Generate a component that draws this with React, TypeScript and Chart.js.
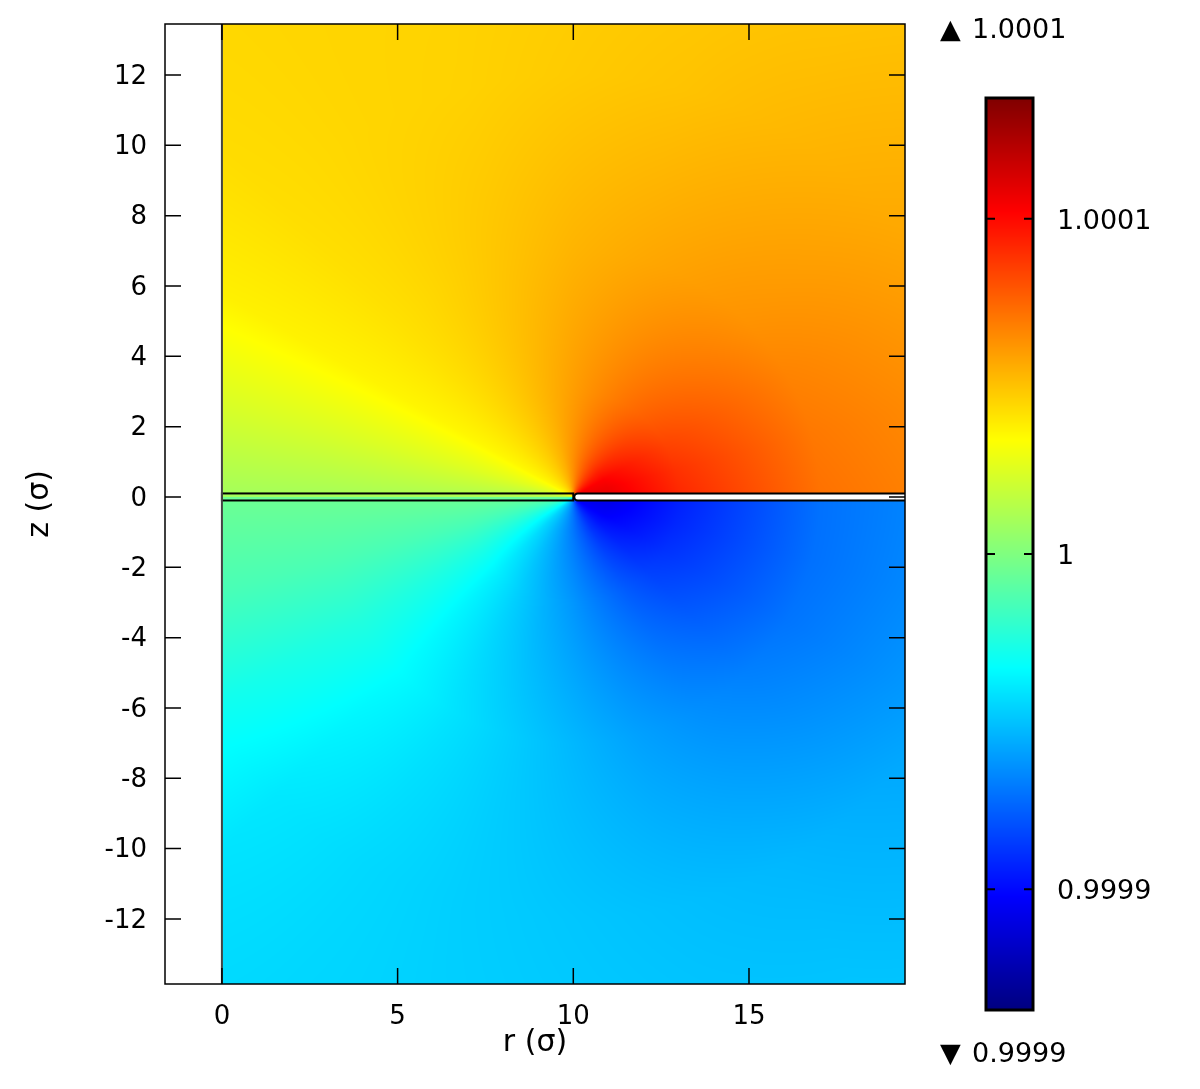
import React, { useEffect, useRef } from 'react';
import { Chart, registerables } from 'chart.js';

Chart.register(...registerables);

// ---- axis ranges & ticks ----
const X_MIN = -1.62;
const X_MAX = 19.44;
const Y_MIN = -13.85;
const Y_MAX = 13.45;
const X_TICKS = [0, 5, 10, 15];
const Y_TICKS = [-12, -10, -8, -6, -4, -2, 0, 2, 4, 6, 8, 10, 12];
const X_TITLE = 'r (σ)';
const Y_TITLE = 'z (σ)';

// ---- colour bar ----
const CB_MIN = 0.999864;
const CB_MAX = 1.000136;
const CB_TICKS = [0.9999, 1, 1.0001];
const CB_TICK_LABELS = ['0.9999', '1', '1.0001'];
const CB_MAX_LABEL = '1.0001';
const CB_MIN_LABEL = '0.9999';

// ---- geometry of the electrode / membrane (sigma units) ----
const EDGE_R = 10;          // edge of the plate, where the field fans out
const STRIP_HALF = 0.1;     // half thickness of strip and plate
const DATA_R_MIN = 0;       // field only exists for r >= 0

// ---- field samples: potential - 1, in units of 1e-6 ----
// sampled on a polar grid centred on the plate edge (r=10, z=0)
const RADII = [0, 1, 3, 7, 12, 18];
const ANGLE_STEP = 15; // degrees
// upper half: angles 0,15,...,180 (0 = along the plate, above it)
const PHI_UPPER = [
  [108, 107, 105, 96, 86, 75, 64, 55, 48, 42, 36, 26, 14],
  [108, 106, 102, 94, 84, 74, 64, 55, 48, 42, 36, 26, 13],
  [92, 89, 84, 78, 72, 66, 60, 54, 48, 42, 36, 25, 12],
  [72, 70, 67, 63, 60, 57, 54, 50, 46, 42, 37, 24, 10],
  [64, 62, 59, 56, 53, 50, 48, 46, 45, 43, 38, 24, 9],
  [62, 58, 54, 51, 48, 47, 46, 45, 45, 44, 40, 26, 9],
];
// lower half: angles 180,195,...,360 (360 = along the plate, below it)
const PHI_LOWER = [
  [-5, -18, -32, -46, -55, -63, -72, -82, -92, -100, -105, -107, -109],
  [-5, -18, -32, -45, -54, -62, -70, -79, -89, -97, -103, -106, -108],
  [-5, -15, -27, -38, -47, -55, -62, -70, -78, -85, -89, -92, -94],
  [-5, -14, -25, -34, -41, -47, -53, -59, -64, -68, -71, -72, -72],
  [-5, -15, -30, -40, -44, -47, -49, -51, -53, -56, -59, -61, -62],
  [-5, -18, -33, -43, -45, -46, -47, -48, -48, -50, -53, -56, -58],
];
const PHI_UNIT = 1e-6;
const PHI_BASE = 1;

const TICK_FONT = { family: 'DejaVu Sans', size: 26 };
const TITLE_FONT = { family: 'DejaVu Sans', size: 30 };
const CB_FONT = { family: 'DejaVu Sans', size: 27 };

function clamp01(v: number) {
  return v < 0 ? 0 : v > 1 ? 1 : v;
}

function jet(t: number): [number, number, number] {
  t = clamp01(t);
  const r = clamp01(1.5 - Math.abs(4 * t - 3));
  const g = clamp01(1.5 - Math.abs(4 * t - 2));
  const b = clamp01(1.5 - Math.abs(4 * t - 1));
  return [Math.round(r * 255), Math.round(g * 255), Math.round(b * 255)];
}

function fieldAt(r: number, z: number): number {
  const dx = r - EDGE_R;
  const R = Math.hypot(dx, z);
  const ang = (Math.atan2(z, dx) * 180) / Math.PI;
  const upper = ang >= 0;
  const table = upper ? PHI_UPPER : PHI_LOWER;
  const a = upper ? ang : ang + 180; // 0..180 within half
  const nA = table[0].length;
  let ai = a / ANGLE_STEP;
  if (ai < 0) ai = 0;
  if (ai > nA - 1) ai = nA - 1;
  let i0 = Math.floor(ai);
  if (i0 > nA - 2) i0 = nA - 2;
  const fa = ai - i0;
  let j0 = RADII.length - 2;
  let fr = 1;
  for (let j = 0; j < RADII.length - 1; j++) {
    if (R <= RADII[j + 1]) {
      j0 = j;
      fr = (R - RADII[j]) / (RADII[j + 1] - RADII[j]);
      break;
    }
  }
  const v00 = table[j0][i0];
  const v01 = table[j0][i0 + 1];
  const v10 = table[j0 + 1][i0];
  const v11 = table[j0 + 1][i0 + 1];
  const v0 = v00 + (v01 - v00) * fa;
  const v1 = v10 + (v11 - v10) * fa;
  return PHI_BASE + (v0 + (v1 - v0) * fr) * PHI_UNIT;
}

const heatmapPlugin = {
  id: 'heatmap',
  beforeDatasetsDraw(chart: any) {
    const { ctx, chartArea } = chart;
    const xs = chart.scales.x;
    const ys = chart.scales.y;
    const left = Math.round(chartArea.left);
    const top = Math.round(chartArea.top);
    const w = Math.round(chartArea.right) - left;
    const h = Math.round(chartArea.bottom) - top;
    const img = ctx.createImageData(w, h);
    const d = img.data;
    const span = CB_MAX - CB_MIN;
    for (let j = 0; j < h; j++) {
      const z = ys.getValueForPixel(top + j + 0.5);
      for (let i = 0; i < w; i++) {
        const r = xs.getValueForPixel(left + i + 0.5);
        const k = (j * w + i) * 4;
        if (r < DATA_R_MIN) {
          d[k] = 255; d[k + 1] = 255; d[k + 2] = 255; d[k + 3] = 255;
          continue;
        }
        const v = fieldAt(r, z);
        const [cr, cg, cb] = jet((v - CB_MIN) / span);
        d[k] = cr; d[k + 1] = cg; d[k + 2] = cb; d[k + 3] = 255;
      }
    }
    ctx.putImageData(img, left, top);
  },
  afterDraw(chart: any) {
    const { ctx, chartArea } = chart;
    const xs = chart.scales.x;
    const ys = chart.scales.y;
    const { left, right, top, bottom } = chartArea;
    ctx.save();
    ctx.beginPath();
    ctx.rect(left, top, right - left, bottom - top);
    ctx.clip();

    const yTop = ys.getPixelForValue(STRIP_HALF);
    const yBot = ys.getPixelForValue(-STRIP_HALF);
    const xEdge = xs.getPixelForValue(EDGE_R);
    const x0 = xs.getPixelForValue(DATA_R_MIN);

    // membrane strip r in [0, 10]
    ctx.lineWidth = 2;
    ctx.strokeStyle = '#000';
    ctx.strokeRect(x0, yTop, xEdge - x0, yBot - yTop);

    // plate r >= 10 (white, rounded inner end)
    const rad = (yBot - yTop) / 2;
    ctx.beginPath();
    ctx.moveTo(right + 10, yTop);
    ctx.lineTo(xEdge + 1 + rad, yTop);
    ctx.arcTo(xEdge + 1, yTop, xEdge + 1, yTop + rad, rad);
    ctx.arcTo(xEdge + 1, yBot, xEdge + 1 + rad, yBot, rad);
    ctx.lineTo(right + 10, yBot);
    ctx.closePath();
    ctx.fillStyle = '#fff';
    ctx.fill();
    ctx.stroke();

    // r = 0 boundary line
    ctx.beginPath();
    ctx.strokeStyle = '#444';
    ctx.lineWidth = 2;
    ctx.moveTo(x0, top);
    ctx.lineTo(x0, bottom);
    ctx.stroke();
    ctx.restore();

    // frame and inward ticks on all four sides
    ctx.save();
    ctx.strokeStyle = '#000';
    ctx.lineWidth = 1.5;
    ctx.strokeRect(left, top, right - left, bottom - top);
    const TL = 16;
    ctx.beginPath();
    for (const t of xs.ticks) {
      const px = xs.getPixelForValue(t.value);
      ctx.moveTo(px, bottom);
      ctx.lineTo(px, bottom - TL);
      ctx.moveTo(px, top);
      ctx.lineTo(px, top + TL);
    }
    for (const t of ys.ticks) {
      const py = ys.getPixelForValue(t.value);
      ctx.moveTo(left, py);
      ctx.lineTo(left + TL, py);
      ctx.moveTo(right, py);
      ctx.lineTo(right - TL, py);
    }
    ctx.stroke();
    ctx.restore();
  },
};

const colorbarPlugin = {
  id: 'colorbar',
  beforeDatasetsDraw(chart: any) {
    const { ctx, chartArea } = chart;
    const ys = chart.scales.y;
    const span = CB_MAX - CB_MIN;
    const top = Math.round(chartArea.top);
    const bottom = Math.round(chartArea.bottom);
    for (let y = top; y < bottom; y++) {
      const v = ys.getValueForPixel(y + 0.5);
      const [r, g, b] = jet((v - CB_MIN) / span);
      ctx.fillStyle = `rgb(${r},${g},${b})`;
      ctx.fillRect(chartArea.left, y, chartArea.right - chartArea.left, 1);
    }
  },
  afterDraw(chart: any) {
    const { ctx, chartArea } = chart;
    const ys = chart.scales.y;
    const { left, right, top, bottom } = chartArea;
    ctx.save();
    ctx.strokeStyle = '#000';
    ctx.lineWidth = 2;
    ctx.beginPath();
    for (const t of ys.ticks) {
      const py = ys.getPixelForValue(t.value);
      ctx.moveTo(left, py);
      ctx.lineTo(left + 9, py);
      ctx.moveTo(right, py);
      ctx.lineTo(right - 9, py);
    }
    ctx.stroke();
    ctx.lineWidth = 3;
    ctx.strokeRect(left, top, right - left, bottom - top);

    ctx.fillStyle = '#000';
    ctx.font = `${CB_FONT.size}px ${CB_FONT.family}`;
    ctx.textBaseline = 'middle';
    ctx.textAlign = 'left';
    ctx.fillText('▲', 10, 31);
    ctx.fillText(CB_MAX_LABEL, 42, 31);
    ctx.fillText('▼', 10, 1055);
    ctx.fillText(CB_MIN_LABEL, 42, 1055);
    ctx.restore();
  },
};

function noScalePadding(s: any) {
  s.paddingTop = 0;
  s.paddingBottom = 0;
  s.paddingLeft = 0;
  s.paddingRight = 0;
}

export default function App() {
  const mainRef = useRef<HTMLCanvasElement | null>(null);
  const cbRef = useRef<HTMLCanvasElement | null>(null);

  useEffect(() => {
    document.body.style.margin = '0';
    document.body.style.overflow = 'hidden';
    const main = new Chart(mainRef.current as HTMLCanvasElement, {
      type: 'scatter',
      data: { datasets: [] },
      options: {
        animation: false,
        responsive: false,
        maintainAspectRatio: false,
        layout: { padding: { top: 24, right: 295, left: 0, bottom: 0 } },
        plugins: { legend: { display: false }, tooltip: { enabled: false } },
        scales: {
          x: {
            type: 'linear',
            min: X_MIN,
            max: X_MAX,
            grid: { display: false, drawTicks: false },
            border: { display: false },
            afterBuildTicks: (s: any) => {
              s.ticks = X_TICKS.map((v) => ({ value: v }));
            },
            afterFit: (s: any) => {
              s.height = 105;
              noScalePadding(s);
            },
            ticks: {
              font: TICK_FONT,
              color: '#000',
              padding: 18,
              maxRotation: 0,
              autoSkip: false,
              callback: (v: any) => String(v),
            },
            title: {
              display: true,
              text: X_TITLE,
              font: TITLE_FONT,
              color: '#000',
              padding: { top: 0, bottom: 28 },
            },
          },
          y: {
            type: 'linear',
            min: Y_MIN,
            max: Y_MAX,
            grid: { display: false, drawTicks: false },
            border: { display: false },
            afterBuildTicks: (s: any) => {
              s.ticks = Y_TICKS.map((v) => ({ value: v }));
            },
            afterFit: (s: any) => {
              s.width = 165;
              noScalePadding(s);
            },
            ticks: {
              font: TICK_FONT,
              color: '#000',
              padding: 18,
              labelOffset: 2,
              autoSkip: false,
              callback: (v: any) => String(v),
            },
            title: {
              display: true,
              text: Y_TITLE,
              font: TITLE_FONT,
              color: '#000',
              padding: { top: 22, bottom: 0 },
            },
          },
        },
      },
      plugins: [heatmapPlugin],
    } as any);

    const cb = new Chart(cbRef.current as HTMLCanvasElement, {
      type: 'scatter',
      data: { datasets: [] },
      options: {
        animation: false,
        responsive: false,
        maintainAspectRatio: false,
        layout: { padding: { top: 98, left: 56, bottom: 79, right: 0 } },
        plugins: { legend: { display: false }, tooltip: { enabled: false } },
        scales: {
          x: { type: 'linear', display: false, min: 0, max: 1 },
          y: {
            type: 'linear',
            position: 'right',
            min: CB_MIN,
            max: CB_MAX,
            grid: { display: false, drawTicks: false },
            border: { display: false },
            afterBuildTicks: (s: any) => {
              s.ticks = CB_TICKS.map((v) => ({ value: v }));
            },
            afterFit: (s: any) => {
              s.width = 167;
              noScalePadding(s);
            },
            ticks: {
              font: CB_FONT,
              color: '#000',
              padding: 24,
              labelOffset: 3,
              autoSkip: false,
              callback: (v: any, i: number) => CB_TICK_LABELS[i],
            },
          },
        },
      },
      plugins: [colorbarPlugin],
    } as any);

    return () => {
      main.destroy();
      cb.destroy();
    };
  }, []);

  return (
    <div style={{ position: 'absolute', left: 0, top: 0, width: 1200, height: 1089, background: '#fff' }}>
      <canvas ref={mainRef} width={1200} height={1089} style={{ position: 'absolute', left: 0, top: 0 }} />
      <canvas ref={cbRef} width={270} height={1089} style={{ position: 'absolute', left: 930, top: 0 }} />
    </div>
  );
}
